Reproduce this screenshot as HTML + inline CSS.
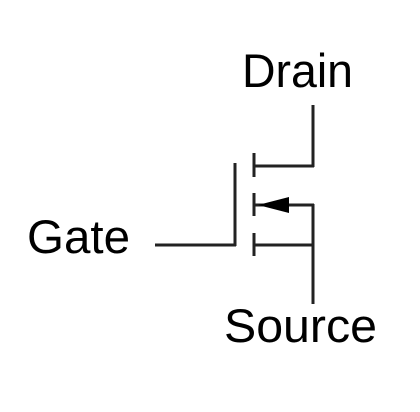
<!DOCTYPE html>
<html><head><style>
html,body{margin:0;padding:0;background:#fff;width:420px;height:412px;overflow:hidden}
svg{display:block}
text{font-family:"Liberation Sans",Arial,sans-serif;font-size:47px;fill:#000}
</style></head><body>
<svg width="420" height="412" viewBox="0 0 420 412">
<g stroke="#222" stroke-width="3" fill="none">
<line x1="313" y1="105" x2="313" y2="167"/>
<line x1="254" y1="166" x2="314" y2="166"/>
<line x1="254" y1="153" x2="254" y2="177"/>
<line x1="254" y1="193" x2="254" y2="216"/>
<line x1="254" y1="233" x2="254" y2="256"/>
<line x1="235" y1="163" x2="235" y2="246"/>
<line x1="155" y1="245" x2="236" y2="245"/>
<line x1="254" y1="205" x2="314" y2="205"/>
<line x1="254" y1="245" x2="314" y2="245"/>
<line x1="313" y1="204" x2="313" y2="304"/>
</g>
<polygon points="258,205 289,197 289,213" fill="#000"/>
<text x="242" y="87" textLength="111" lengthAdjust="spacingAndGlyphs">Drain</text>
<text x="27" y="253" textLength="103" lengthAdjust="spacingAndGlyphs">Gate</text>
<text x="224" y="342" textLength="153" lengthAdjust="spacingAndGlyphs">Source</text>
</svg>
</body></html>
